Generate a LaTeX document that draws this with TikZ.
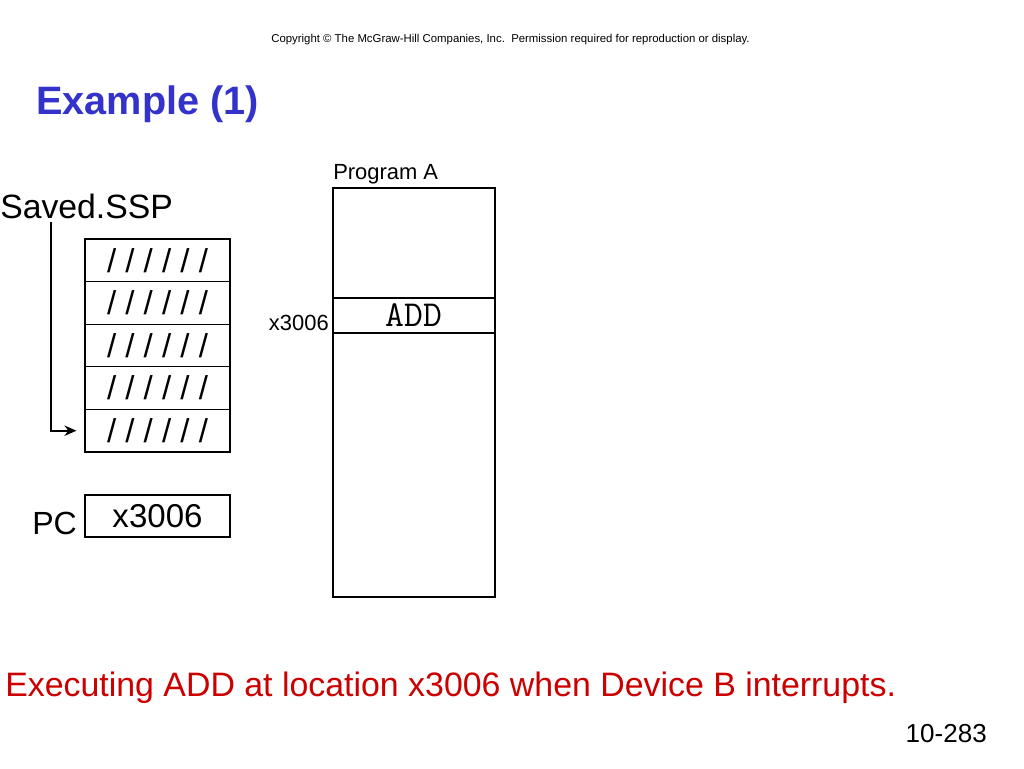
\documentclass[tikz,border=0pt]{standalone}
\usepackage{fontspec}
\setmainfont{Liberation Sans}
\usetikzlibrary{arrows.meta}
\definecolor{titleblue}{RGB}{51,51,204}
\definecolor{notered}{RGB}{204,0,0}
\newcommand{\fsz}[1]{\fontsize{#1}{1.2\dimexpr#1pt\relax}\selectfont}
\tikzset{
  cell/.style={draw,line width=0.8pt,minimum width=36.25mm,minimum height=10.65mm,inner sep=0pt},
  lbl/.style={inner sep=0pt,anchor=base west}
}
\begin{document}
\begin{tikzpicture}[x=0.25mm,y=-0.25mm]
\useasboundingbox (0,0) rectangle (1024,768);

\node[lbl] (copy) at (271,42) {\fsz{8.1}Copyright \textcopyright{} The McGraw-Hill Companies, Inc.\ \ Permission required for reproduction or display.};
\node[lbl,text=titleblue] (title) at (36,114) {\fsz{28.2}\bfseries Example (1)};

% supervisor stack
\node[lbl] (ssp) at (0,218) {\fsz{24}Saved.SSP};
\foreach \i in {1,...,5}
  \node[cell] (r\i) at (157.5,{239+42.6*(\i-0.5)}) {\fsz{23.5}/ / / / / /};
\coordinate (tail) at (51,222);
\draw[line width=1.2pt,-{Stealth[length=3mm,width=2.6mm]}] (tail) |- ([xshift=-2mm]r5.west);

\node[cell,minimum height=10.5mm] (pc) at (157.5,516) {\fsz{23.5}x3006};
\node[lbl] (pclbl) at (32,534) {\fsz{22.8}PC};

% program A
\node[lbl] (progA) at (333,179) {\fsz{15.6}Program A};
\node[cell,minimum width=40.5mm,minimum height=102.25mm] (prog) at (414,392.5) {};
\node[cell,minimum width=40.5mm,minimum height=8.75mm] (add) at (414,315.5) {\fsz{26}\ttfamily ADD};
\node[inner sep=0pt,anchor=base east] (addr) at (329,330) {\fsz{15.6}x3006};

\node[lbl,text=notered] (note) at (5,696) {\fsz{24.1}Executing ADD at location x3006 when Device B interrupts.};
\node[inner sep=0pt,anchor=base east] (pg) at (987,742) {\fsz{18.5}10-283};

\end{tikzpicture}
\end{document}
